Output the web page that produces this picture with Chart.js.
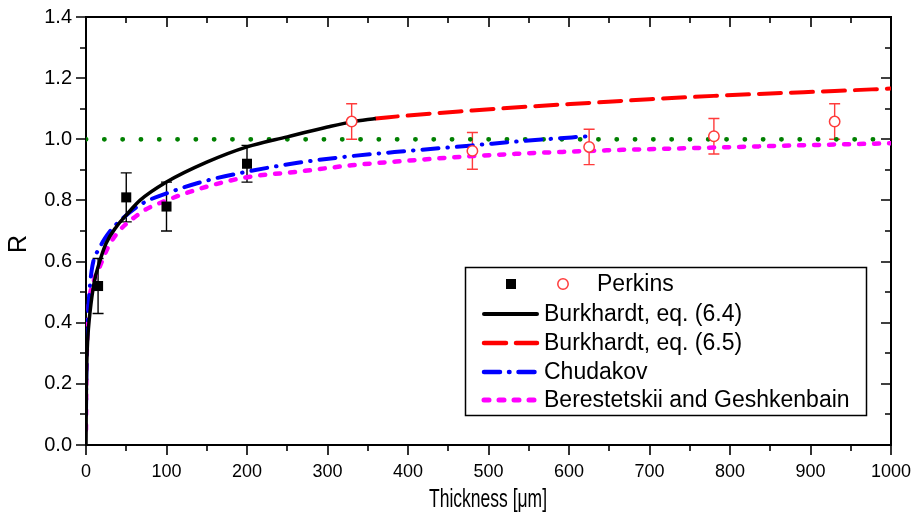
<!DOCTYPE html>
<html>
<head>
<meta charset="utf-8">
<script src="https://cdn.jsdelivr.net/npm/chart.js@4.4.0/dist/chart.umd.min.js"></script>
<style>
  html, body { margin: 0; padding: 0; background: #fff; }
  #wrap { width: 916px; height: 519px; }
</style>
</head>
<body>
<div id="wrap"><canvas id="chart" width="916" height="519"></canvas></div>
<script>
// Perkins measurements (two marker groups) with error half-widths
const perkinsX = [15, 50, 100, 200];
const perkinsY = [0.52, 0.81, 0.78, 0.92];
const perkinsErr = [0.09, 0.08, 0.08, 0.06];
const perkins2X = [330, 480, 625, 780, 930];
const perkins2Y = [1.058, 0.962, 0.975, 1.01, 1.058];
const perkins2Err = [0.058, 0.06, 0.058, 0.058, 0.058];

// model curves
const burk64X = [0, 0.5, 1, 2, 3, 5, 10, 17, 25, 38, 50, 67, 100, 150, 200, 250, 300, 330, 360];
const burk64Y = [0, 0.2, 0.27, 0.34, 0.38, 0.435, 0.53, 0.6, 0.66, 0.715, 0.752, 0.8, 0.86, 0.925, 0.975, 1.008, 1.04, 1.057, 1.068];
const burk65X = [360, 400, 480, 550, 625, 700, 780, 850, 930, 1000];
const burk65Y = [1.068, 1.078, 1.094, 1.107, 1.119, 1.131, 1.142, 1.15, 1.158, 1.166];
const chudX = [0, 0.5, 1, 3, 7, 17, 30, 46, 70, 100, 150, 200, 263, 330, 400, 480, 550, 630];
const chudY = [0.1, 0.25, 0.32, 0.45, 0.57, 0.645, 0.7, 0.742, 0.79, 0.823, 0.865, 0.894, 0.923, 0.945, 0.962, 0.98, 0.996, 1.011];
const berX = [0, 0.3, 1, 3, 9, 17, 30, 67, 100, 150, 200, 263, 330, 400, 480, 625, 780, 900, 1000];
const berY = [0.05, 0.2, 0.3, 0.436, 0.53, 0.583, 0.66, 0.758, 0.8, 0.845, 0.876, 0.894, 0.915, 0.93, 0.945, 0.962, 0.973, 0.981, 0.987];
const unityX = [0, 1000];
const unityY = [1, 1];

const xTicks = [0, 100, 200, 300, 400, 500, 600, 700, 800, 900, 1000];
const yTicks = [0, 0.2, 0.4, 0.6, 0.8, 1.0, 1.2, 1.4];
const legendLabels = ["Perkins", "Burkhardt, eq. (6.4)", "Burkhardt, eq. (6.5)", "Chudakov", "Berestetskii and Geshkenbain"];

const FONT = "'Liberation Sans', Arial, sans-serif";
const pts = (xs, ys) => xs.map((x, i) => ({ x, y: ys[i] }));

const styles = {
  burk64: { color: "#000000", width: 3.5, dash: [] },
  burk65: { color: "#ff0000", width: 4, dash: [22, 10] },
  chud: { color: "#0000ff", width: 4, dash: [16, 9, 0.5, 9] },
  ber: { color: "#ff00ff", width: 4.5, dash: [5, 10] },
};

function curve(data, s) {
  return {
    data, showLine: true, pointRadius: 0, borderColor: s.color, borderWidth: s.width,
    borderDash: s.dash, borderCapStyle: s.dash.length ? "round" : "butt",
    cubicInterpolationMode: "monotone", fill: false,
  };
}

// draws error bars, frame with minor ticks, axis titles and the legend box
const decor = {
  id: "decor",
  beforeDatasetsDraw(chart) {
    const { ctx, chartArea: a, scales: { x, y } } = chart;
    ctx.save();
    // frame
    ctx.strokeStyle = "#000";
    ctx.lineWidth = 2;
    ctx.strokeRect(a.left, a.top, a.right - a.left, a.bottom - a.top);
    ctx.lineWidth = 1.6;
    ctx.beginPath();
    for (let v = 0; v <= 1000; v += 50) {
      const px = Math.round(x.getPixelForValue(v));
      const len = v % 100 === 0 ? 10 : 6;
      ctx.moveTo(px, a.bottom); ctx.lineTo(px, a.bottom + len);
      ctx.moveTo(px, a.top); ctx.lineTo(px, a.top + len);
    }
    for (let i = 0; i <= 14; i++) {
      const py = Math.round(y.getPixelForValue(i / 10));
      const len = i % 2 === 0 ? 10 : 6;
      ctx.moveTo(a.left, py); ctx.lineTo(a.left - len, py);
      ctx.moveTo(a.right, py); ctx.lineTo(a.right - len, py);
    }
    ctx.stroke();

    // error bars
    const bars = (xs, ys, es, color) => {
      ctx.strokeStyle = color;
      ctx.lineWidth = 1.4;
      ctx.beginPath();
      xs.forEach((xv, i) => {
        const px = x.getPixelForValue(xv);
        const top = y.getPixelForValue(ys[i] + es[i]);
        const bot = y.getPixelForValue(ys[i] - es[i]);
        ctx.moveTo(px, top); ctx.lineTo(px, bot);
        ctx.moveTo(px - 5.5, top); ctx.lineTo(px + 5.5, top);
        ctx.moveTo(px - 5.5, bot); ctx.lineTo(px + 5.5, bot);
      });
      ctx.stroke();
    };
    bars(perkinsX, perkinsY, perkinsErr, "#000");
    bars(perkins2X, perkins2Y, perkins2Err, "#ff3b3b");
    ctx.restore();
  },
  afterDraw(chart) {
    const { ctx } = chart;
    ctx.save();
    ctx.fillStyle = "#000";
    // axis titles (the x title is narrow in the reference)
    ctx.textAlign = "center";
    ctx.textBaseline = "middle";
    ctx.save();
    ctx.translate(488, 500);
    ctx.scale(0.7, 1);
    ctx.font = "25px " + FONT;
    ctx.fillText("Thickness [\u03bcm]", 0, 0);
    ctx.restore();
    ctx.save();
    ctx.translate(19, 244);
    ctx.rotate(-Math.PI / 2);
    ctx.font = "25px " + FONT;
    ctx.fillText("R", 0, 0);
    ctx.restore();

    // legend
    ctx.fillStyle = "#fff";
    ctx.fillRect(465, 267, 401, 148);
    ctx.strokeStyle = "#000";
    ctx.lineWidth = 1.5;
    ctx.strokeRect(465.5, 267.5, 401, 148);
    const rows = [284, 314, 343, 372, 400];
    ctx.font = "23px " + FONT;
    ctx.textAlign = "left";
    ctx.fillStyle = "#000";
    ctx.fillRect(511 - 5, rows[0] - 5, 10, 10);
    ctx.beginPath();
    ctx.arc(563, rows[0], 5.2, 0, Math.PI * 2);
    ctx.fillStyle = "#fff";
    ctx.fill();
    ctx.strokeStyle = "#ff3b3b";
    ctx.lineWidth = 1.5;
    ctx.stroke();
    ctx.fillStyle = "#000";
    ctx.fillText(legendLabels[0], 597, rows[0] + 1);
    [styles.burk64, styles.burk65, styles.chud, styles.ber].forEach((s, i) => {
      const yy = rows[i + 1];
      ctx.beginPath();
      ctx.strokeStyle = s.color;
      ctx.lineWidth = s.width + 0.5;
      ctx.setLineDash(s.dash);
      ctx.lineCap = "round";
      ctx.moveTo(484, yy); ctx.lineTo(537, yy);
      ctx.stroke();
      ctx.setLineDash([]);
      ctx.fillText(legendLabels[i + 1], 544, yy + 1);
    });
    ctx.restore();
  },
};

new Chart(document.getElementById("chart").getContext("2d"), {
  type: "scatter",
  data: {
    datasets: [
      { data: pts(perkinsX, perkinsY), pointStyle: "rect", pointRadius: 7.1, backgroundColor: "#000", borderColor: "#000", borderWidth: 0 },
      { data: pts(perkins2X, perkins2Y), pointStyle: "circle", pointRadius: 5.2, backgroundColor: "#fff", borderColor: "#ff3b3b", borderWidth: 1.5 },
      curve(pts(burk64X, burk64Y), styles.burk64),
      curve(pts(burk65X, burk65Y), styles.burk65),
      curve(pts(chudX, chudY), styles.chud),
      curve(pts(berX, berY), styles.ber),
      {
        data: pts(unityX, unityY), showLine: true, pointRadius: 0, borderColor: "#008000",
        borderWidth: 4.8, borderDash: [0.1, 18.2], borderCapStyle: "round",
      },
    ],
  },
  options: {
    responsive: false,
    animation: false,
    layout: { padding: { left: 0, top: 17, right: 25, bottom: 0 } },
    plugins: { legend: { display: false }, tooltip: { enabled: false } },
    scales: {
      x: {
        type: "linear", min: 0, max: 1000,
        afterBuildTicks: (s) => { s.ticks = xTicks.map((v) => ({ value: v })); },
        afterFit: (s) => { s.height = 74; s.paddingLeft = 0; s.paddingRight = 0; },
        grid: { display: false, drawTicks: false },
        border: { display: false },
        ticks: { color: "#000", font: { size: 18, family: FONT }, padding: 16, maxRotation: 0, callback: (v) => String(v) },
      },
      y: {
        type: "linear", min: 0, max: 1.4,
        afterBuildTicks: (s) => { s.ticks = yTicks.map((v) => ({ value: v })); },
        afterFit: (s) => { s.width = 86; s.paddingTop = 0; s.paddingBottom = 0; },
        grid: { display: false, drawTicks: false },
        border: { display: false },
        ticks: { color: "#000", font: { size: 20, family: FONT }, padding: 14, callback: (v) => v.toFixed(1) },
      },
    },
  },
  plugins: [decor],
});
</script>
</body>
</html>
